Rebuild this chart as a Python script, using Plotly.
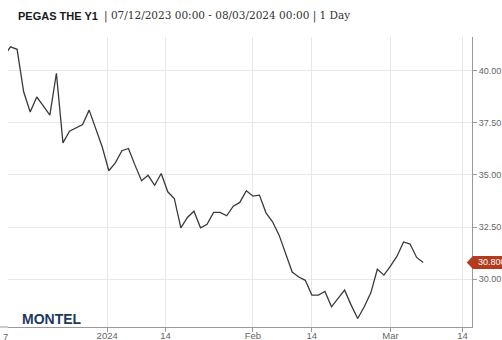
import datetime as dt
import plotly.graph_objects as go

# ---- data -------------------------------------------------------------
trade_dates = [
    "2023-12-07", "2023-12-08", "2023-12-11", "2023-12-12", "2023-12-13", "2023-12-14",
    "2023-12-15", "2023-12-18", "2023-12-19", "2023-12-20", "2023-12-21", "2023-12-22",
    "2023-12-26", "2023-12-27", "2023-12-28", "2023-12-29",
    "2024-01-02", "2024-01-03", "2024-01-04", "2024-01-05", "2024-01-08", "2024-01-09",
    "2024-01-10", "2024-01-11", "2024-01-12", "2024-01-15", "2024-01-16", "2024-01-17",
    "2024-01-18", "2024-01-19", "2024-01-22", "2024-01-23", "2024-01-24", "2024-01-25",
    "2024-01-26", "2024-01-29", "2024-01-30", "2024-01-31",
    "2024-02-01", "2024-02-02", "2024-02-05", "2024-02-06", "2024-02-07", "2024-02-08",
    "2024-02-09", "2024-02-12", "2024-02-13", "2024-02-14", "2024-02-15", "2024-02-16",
    "2024-02-19", "2024-02-20", "2024-02-21", "2024-02-22", "2024-02-23", "2024-02-26",
    "2024-02-27", "2024-02-28", "2024-02-29",
    "2024-03-01", "2024-03-04", "2024-03-05", "2024-03-06", "2024-03-07", "2024-03-08",
]
prices = [
    40.70, 41.15, 41.03, 38.99, 38.02, 38.74, 38.31, 37.87, 39.88, 36.54, 37.10, 37.25,
    37.42, 38.11, 37.26, 36.34,
    35.20, 35.58, 36.16, 36.27, 35.47, 34.72, 34.98, 34.50, 35.07, 34.19, 33.87, 32.46,
    32.96, 33.26, 32.46, 32.63, 33.20, 33.20, 33.04, 33.50, 33.68, 34.24,
    33.98, 34.03, 33.18, 32.75, 32.11, 31.23, 30.34, 30.10, 29.94, 29.23, 29.23, 29.41,
    28.67, 29.07, 29.47, 28.75, 28.11, 28.67, 29.34, 30.47, 30.19,
    30.62, 31.10, 31.78, 31.68, 31.04, 30.80,
]
x_tick_dates = ["2024-01-01", "2024-01-14", "2024-02-01", "2024-02-14", "2024-03-01", "2024-03-14"]
x_tick_labels = ["2024", "14", "Feb", "14", "Mar", "14"]
first_label = "7"
y_ticks = [30.0, 32.5, 35.0, 37.5, 40.0]
last_price_label = "30.800"
title_bold = "PEGAS THE Y1"
title_rest = "| 07/12/2023 00:00 - 08/03/2024 00:00 | 1 Day"

# ---- ordinal (trading-day) axis helpers ------------------------------
D = [dt.date.fromisoformat(s) for s in trade_dates]
xs = list(range(len(D)))


def ordinal_pos(s):
    d = dt.date.fromisoformat(s)
    if d in D:
        return float(D.index(d))
    if d > D[-1]:
        return len(D) - 1 + (d - D[-1]).days
    for i in range(len(D) - 1):
        if D[i] < d < D[i + 1]:
            return i + (d - D[i]).days / (D[i + 1] - D[i]).days
    return 0.0


tickvals = [ordinal_pos(s) for s in x_tick_dates]

W, H = 502, 340
ML, MR, MT, MB = 8, 30, 37, 13
PW, PH = W - ML - MR, H - MT - MB
XR = [0.61, 71.45]
YR = [27.70, 41.62]


def px_x(p):
    return (p - ML) / PW


def px_y(p):
    return (H - MB - p) / PH


fig = go.Figure()
fig.add_trace(go.Scatter(
    x=xs, y=prices, mode="lines",
    line=dict(color="#3a3a3a", width=1.3),
    hoverinfo="skip", showlegend=False,
))

axis_font = dict(family="Liberation Sans, Arial, sans-serif", color="#666666")
fig.update_xaxes(
    range=XR, tickmode="array", tickvals=tickvals, ticktext=x_tick_labels,
    showgrid=True, gridcolor="#e8e8e8", gridwidth=1,
    showline=True, linecolor="#999999", linewidth=1,
    ticks="outside", ticklen=4, tickcolor="#999999", ticklabelstandoff=-4,
    tickfont=dict(size=9.5, **axis_font), zeroline=False,
)
fig.update_yaxes(
    range=YR, side="right", tickmode="array", tickvals=y_ticks,
    ticktext=[f"{v:.2f}" for v in y_ticks],
    showgrid=True, gridcolor="#e8e8e8", gridwidth=1,
    showline=True, linecolor="#999999", linewidth=1,
    ticks="outside", ticklen=4, tickcolor="#999999",
    tickfont=dict(size=9, **axis_font), zeroline=False,
)

# price flag on the right axis
last = prices[-1]
hh = 6.5 * (YR[1] - YR[0]) / PH
tip, shoulder, right = px_x(466.7), px_x(473.0), px_x(506)
flag_path = (f"M {tip},{last} L {shoulder},{last + hh} L {right},{last + hh} "
             f"L {right},{last - hh} L {shoulder},{last - hh} Z")
fig.add_shape(type="path", path=flag_path, xref="paper", yref="y",
              fillcolor="#b33b1e", line=dict(width=0), layer="above")

# small extension of the x axis line to the left edge
fig.add_shape(type="line", xref="paper", yref="paper", x0=px_x(0), x1=0, y0=0, y1=0,
              line=dict(color="#999999", width=1))

annotations = [
    dict(text=last_price_label, xref="paper", yref="y", x=px_x(475.5), y=last,
         xanchor="left", yanchor="middle", showarrow=False,
         font=dict(family="Liberation Sans, Arial, sans-serif", size=9, color="white")),
    dict(text=first_label, xref="paper", yref="paper",
         x=px_x(5), y=0, yshift=-9,
         xanchor="center", yanchor="middle", showarrow=False,
         font=dict(size=9.5, **axis_font)),
    dict(text=f"<b>{title_bold}</b>", xref="paper", yref="paper",
         x=px_x(15.5), y=px_y(16.5), xanchor="left", yanchor="middle", showarrow=False,
         font=dict(family="Liberation Sans, Arial, sans-serif", size=11, color="#1a1a1a")),
    dict(text=title_rest, xref="paper", yref="paper",
         x=px_x(101.5), y=px_y(16.5), xanchor="left", yanchor="middle", showarrow=False,
         font=dict(family="DejaVu Serif, serif", size=10.5, color="#333333")),
    dict(text="<b>MONTEL</b>", xref="paper", yref="paper",
         x=px_x(19.5), y=px_y(318.5), xanchor="left", yanchor="middle", showarrow=False,
         font=dict(family="Liberation Sans, Arial, sans-serif", size=14, color="#1d3a5c")),
]

fig.update_layout(
    width=W, height=H,
    margin=dict(l=ML, r=MR, t=MT, b=MB, autoexpand=False),
    paper_bgcolor="white", plot_bgcolor="white",
    annotations=annotations,
    showlegend=False,
)

fig.write_html("out.html", config={"displayModeBar": False})
